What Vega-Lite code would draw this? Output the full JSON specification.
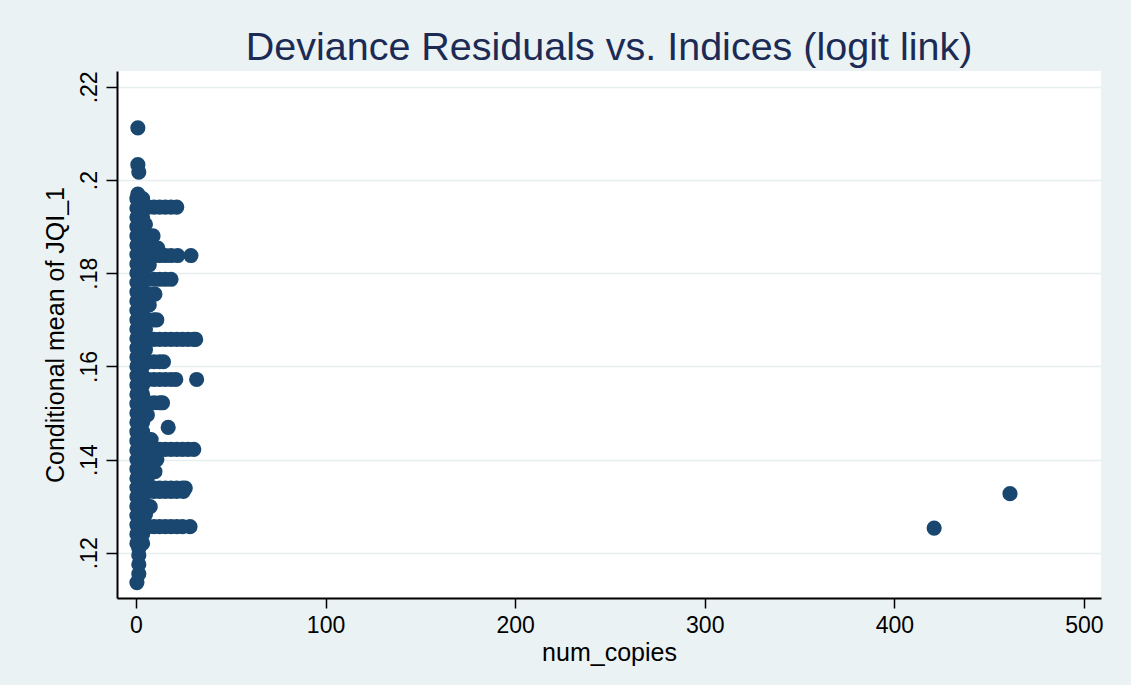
{
  "$schema": "https://vega.github.io/schema/vega-lite/v6.json",
  "width": 984,
  "height": 527,
  "autosize": "none",
  "padding": {"left": 117, "top": 71, "right": 30, "bottom": 87},
  "background": "#eaf2f3",
  "title": {
    "text": "Deviance Residuals vs. Indices (logit link)",
    "font": "Liberation Sans",
    "fontSize": 39.5,
    "fontWeight": "normal",
    "color": "#1c2b55",
    "anchor": "middle",
    "offset": 2
  },
  "config": {
    "view": {"fill": "white", "stroke": null}
  },
  "data": {
    "values": [
      {"x": 1, "y": 0.2112}, {"x": 1, "y": 0.2033}, {"x": 1.5, "y": 0.2017}, {"x": 1, "y": 0.197},
      {"x": 0.5, "y": 0.122}, {"x": 3.5, "y": 0.122}, {"x": 0.5, "y": 0.124}, {"x": 3.5, "y": 0.124},
      {"x": 0.5, "y": 0.126}, {"x": 3.5, "y": 0.126}, {"x": 0.5, "y": 0.128}, {"x": 3.5, "y": 0.128},
      {"x": 0.5, "y": 0.130}, {"x": 3.5, "y": 0.130}, {"x": 0.5, "y": 0.132}, {"x": 3.5, "y": 0.132},
      {"x": 0.5, "y": 0.134}, {"x": 3.5, "y": 0.134}, {"x": 0.5, "y": 0.136}, {"x": 3.5, "y": 0.136},
      {"x": 0.5, "y": 0.138}, {"x": 3.5, "y": 0.138}, {"x": 0.5, "y": 0.140}, {"x": 3.5, "y": 0.140},
      {"x": 0.5, "y": 0.142}, {"x": 3.5, "y": 0.142}, {"x": 0.5, "y": 0.144}, {"x": 3.5, "y": 0.144},
      {"x": 0.5, "y": 0.146}, {"x": 3.5, "y": 0.146}, {"x": 0.5, "y": 0.148}, {"x": 3.5, "y": 0.148},
      {"x": 0.5, "y": 0.150}, {"x": 3.5, "y": 0.150}, {"x": 0.5, "y": 0.152}, {"x": 3.5, "y": 0.152},
      {"x": 0.5, "y": 0.154}, {"x": 3.5, "y": 0.154}, {"x": 0.5, "y": 0.156}, {"x": 3.5, "y": 0.156},
      {"x": 0.5, "y": 0.158}, {"x": 3.5, "y": 0.158}, {"x": 0.5, "y": 0.160}, {"x": 3.5, "y": 0.160},
      {"x": 0.5, "y": 0.162}, {"x": 3.5, "y": 0.162}, {"x": 0.5, "y": 0.164}, {"x": 3.5, "y": 0.164},
      {"x": 0.5, "y": 0.166}, {"x": 3.5, "y": 0.166}, {"x": 0.5, "y": 0.168}, {"x": 3.5, "y": 0.168},
      {"x": 0.5, "y": 0.170}, {"x": 3.5, "y": 0.170}, {"x": 0.5, "y": 0.172}, {"x": 3.5, "y": 0.172},
      {"x": 0.5, "y": 0.174}, {"x": 3.5, "y": 0.174}, {"x": 0.5, "y": 0.176}, {"x": 3.5, "y": 0.176},
      {"x": 0.5, "y": 0.178}, {"x": 3.5, "y": 0.178}, {"x": 0.5, "y": 0.180}, {"x": 3.5, "y": 0.180},
      {"x": 0.5, "y": 0.182}, {"x": 3.5, "y": 0.182}, {"x": 0.5, "y": 0.184}, {"x": 3.5, "y": 0.184},
      {"x": 0.5, "y": 0.186}, {"x": 3.5, "y": 0.186}, {"x": 0.5, "y": 0.188}, {"x": 3.5, "y": 0.188},
      {"x": 0.5, "y": 0.190}, {"x": 3.5, "y": 0.190}, {"x": 0.5, "y": 0.192}, {"x": 3.5, "y": 0.192},
      {"x": 0.5, "y": 0.194}, {"x": 3.5, "y": 0.194}, {"x": 0.5, "y": 0.196}, {"x": 3.5, "y": 0.196},
      {"x": 2, "y": 0.123}, {"x": 2, "y": 0.125}, {"x": 2, "y": 0.127}, {"x": 2, "y": 0.129}, {"x": 2, "y": 0.131},
      {"x": 2, "y": 0.133}, {"x": 2, "y": 0.135}, {"x": 2, "y": 0.137}, {"x": 2, "y": 0.139}, {"x": 2, "y": 0.141},
      {"x": 2, "y": 0.143}, {"x": 2, "y": 0.145}, {"x": 2, "y": 0.147}, {"x": 2, "y": 0.149}, {"x": 2, "y": 0.151},
      {"x": 2, "y": 0.153}, {"x": 2, "y": 0.155}, {"x": 2, "y": 0.157}, {"x": 2, "y": 0.159}, {"x": 2, "y": 0.161},
      {"x": 2, "y": 0.163}, {"x": 2, "y": 0.165}, {"x": 2, "y": 0.167}, {"x": 2, "y": 0.169}, {"x": 2, "y": 0.171},
      {"x": 2, "y": 0.173}, {"x": 2, "y": 0.175}, {"x": 2, "y": 0.177}, {"x": 2, "y": 0.179}, {"x": 2, "y": 0.181},
      {"x": 2, "y": 0.183}, {"x": 2, "y": 0.185}, {"x": 2, "y": 0.187}, {"x": 2, "y": 0.189}, {"x": 2, "y": 0.191},
      {"x": 2, "y": 0.193}, {"x": 2, "y": 0.195},
      {"x": 0.5, "y": 0.1136}, {"x": 1.5, "y": 0.1155}, {"x": 1.5, "y": 0.1175}, {"x": 1.5, "y": 0.1195}, {"x": 1.5, "y": 0.121},
      {"x": 6.5, "y": 0.1942}, {"x": 9.5, "y": 0.1942}, {"x": 12.5, "y": 0.1942}, {"x": 15.5, "y": 0.1942}, {"x": 18.5, "y": 0.1942}, {"x": 21.5, "y": 0.1942},
      {"x": 5, "y": 0.1905},
      {"x": 6.5, "y": 0.188}, {"x": 9, "y": 0.188},
      {"x": 6.5, "y": 0.1854}, {"x": 9.5, "y": 0.1854}, {"x": 11.5, "y": 0.1854},
      {"x": 6.5, "y": 0.1838}, {"x": 9.5, "y": 0.1838}, {"x": 12.5, "y": 0.1838}, {"x": 15.5, "y": 0.1838}, {"x": 18.5, "y": 0.1838}, {"x": 22, "y": 0.1838}, {"x": 29, "y": 0.1838},
      {"x": 7, "y": 0.1818},
      {"x": 6.5, "y": 0.1787}, {"x": 9.5, "y": 0.1787}, {"x": 12.5, "y": 0.1787}, {"x": 15.5, "y": 0.1787}, {"x": 18.5, "y": 0.1787},
      {"x": 6.5, "y": 0.1755}, {"x": 10, "y": 0.1755},
      {"x": 7, "y": 0.1732},
      {"x": 6.5, "y": 0.170}, {"x": 9.5, "y": 0.170}, {"x": 11, "y": 0.170},
      {"x": 5, "y": 0.168},
      {"x": 6.5, "y": 0.1658}, {"x": 9.5, "y": 0.1658}, {"x": 12.5, "y": 0.1658}, {"x": 15.5, "y": 0.1658}, {"x": 18.5, "y": 0.1658}, {"x": 21.5, "y": 0.1658}, {"x": 24.5, "y": 0.1658}, {"x": 27.5, "y": 0.1658}, {"x": 30.5, "y": 0.1658}, {"x": 31.5, "y": 0.1658},
      {"x": 5, "y": 0.1636},
      {"x": 6.5, "y": 0.161}, {"x": 9.5, "y": 0.161}, {"x": 12.5, "y": 0.161}, {"x": 14.5, "y": 0.161},
      {"x": 6.5, "y": 0.1572}, {"x": 9.5, "y": 0.1572}, {"x": 12.5, "y": 0.1572}, {"x": 15.5, "y": 0.1572}, {"x": 18.5, "y": 0.1572}, {"x": 21, "y": 0.1572}, {"x": 32, "y": 0.1572},
      {"x": 6.5, "y": 0.1522}, {"x": 9.5, "y": 0.1522}, {"x": 12.5, "y": 0.1522}, {"x": 14, "y": 0.1522},
      {"x": 6, "y": 0.1496},
      {"x": 17, "y": 0.1469},
      {"x": 6.5, "y": 0.1443}, {"x": 8, "y": 0.1443},
      {"x": 6.5, "y": 0.1422}, {"x": 9.5, "y": 0.1422}, {"x": 12.5, "y": 0.1422}, {"x": 15.5, "y": 0.1422}, {"x": 18.5, "y": 0.1422}, {"x": 21.5, "y": 0.1422}, {"x": 24.5, "y": 0.1422}, {"x": 27.5, "y": 0.1422}, {"x": 30.5, "y": 0.1422},
      {"x": 6.5, "y": 0.140}, {"x": 9.5, "y": 0.140}, {"x": 11, "y": 0.140},
      {"x": 6.5, "y": 0.1374}, {"x": 10, "y": 0.1374},
      {"x": 6, "y": 0.1361},
      {"x": 6.5, "y": 0.1339}, {"x": 9.5, "y": 0.1339}, {"x": 12.5, "y": 0.1339}, {"x": 15.5, "y": 0.1339}, {"x": 18.5, "y": 0.1339}, {"x": 21.5, "y": 0.1339}, {"x": 24.5, "y": 0.1339}, {"x": 26, "y": 0.1339},
      {"x": 6.5, "y": 0.1332}, {"x": 9.5, "y": 0.1332}, {"x": 12.5, "y": 0.1332}, {"x": 15.5, "y": 0.1332}, {"x": 18.5, "y": 0.1332}, {"x": 21.5, "y": 0.1332}, {"x": 25, "y": 0.1332},
      {"x": 6.5, "y": 0.1299}, {"x": 7.5, "y": 0.1299},
      {"x": 5, "y": 0.1282},
      {"x": 6.5, "y": 0.1256}, {"x": 9.5, "y": 0.1256}, {"x": 12.5, "y": 0.1256}, {"x": 15.5, "y": 0.1256}, {"x": 18.5, "y": 0.1256}, {"x": 21.5, "y": 0.1256}, {"x": 24.5, "y": 0.1256}, {"x": 28.5, "y": 0.1256},
      {"x": 421, "y": 0.1253}, {"x": 461, "y": 0.1327}
    ]
  },
  "mark": {"type": "point", "filled": true, "shape": "circle", "size": 230, "color": "#1a476f", "opacity": 1, "strokeWidth": 0},
  "encoding": {
    "x": {
      "field": "x",
      "type": "quantitative",
      "scale": {"domain": [-10, 509], "nice": false, "zero": false},
      "axis": {
        "title": "num_copies",
        "values": [0, 100, 200, 300, 400, 500],
        "grid": false,
        "domainColor": "black",
        "domainWidth": 2,
        "tickColor": "black",
        "tickWidth": 1.5,
        "tickSize": 10,
        "labelFont": "Liberation Sans",
        "labelFontSize": 23,
        "labelColor": "black",
        "labelPadding": 6,
        "titleFont": "Liberation Sans",
        "titleFontSize": 25,
        "titleFontWeight": "normal",
        "titleColor": "black",
        "titlePadding": 3
      }
    },
    "y": {
      "field": "y",
      "type": "quantitative",
      "scale": {"domain": [0.1103, 0.2234], "nice": false, "zero": false},
      "axis": {
        "title": "Conditional mean of JQI_1",
        "values": [0.12, 0.14, 0.16, 0.18, 0.2, 0.22],
        "labelExpr": "substring(format(datum.value, '.2~f'), 1)",
        "grid": true,
        "gridColor": "#e6eef0",
        "gridWidth": 1.5,
        "domainColor": "black",
        "domainWidth": 2,
        "tickColor": "black",
        "tickWidth": 1.5,
        "tickSize": 11,
        "labelAngle": -90,
        "labelAlign": "center",
        "labelBaseline": "bottom",
        "labelFont": "Liberation Sans",
        "labelFontSize": 23,
        "labelColor": "black",
        "labelPadding": 5,
        "titleFont": "Liberation Sans",
        "titleFontSize": 25,
        "titleFontWeight": "normal",
        "titleColor": "black",
        "titlePadding": 10
      }
    }
  }
}
